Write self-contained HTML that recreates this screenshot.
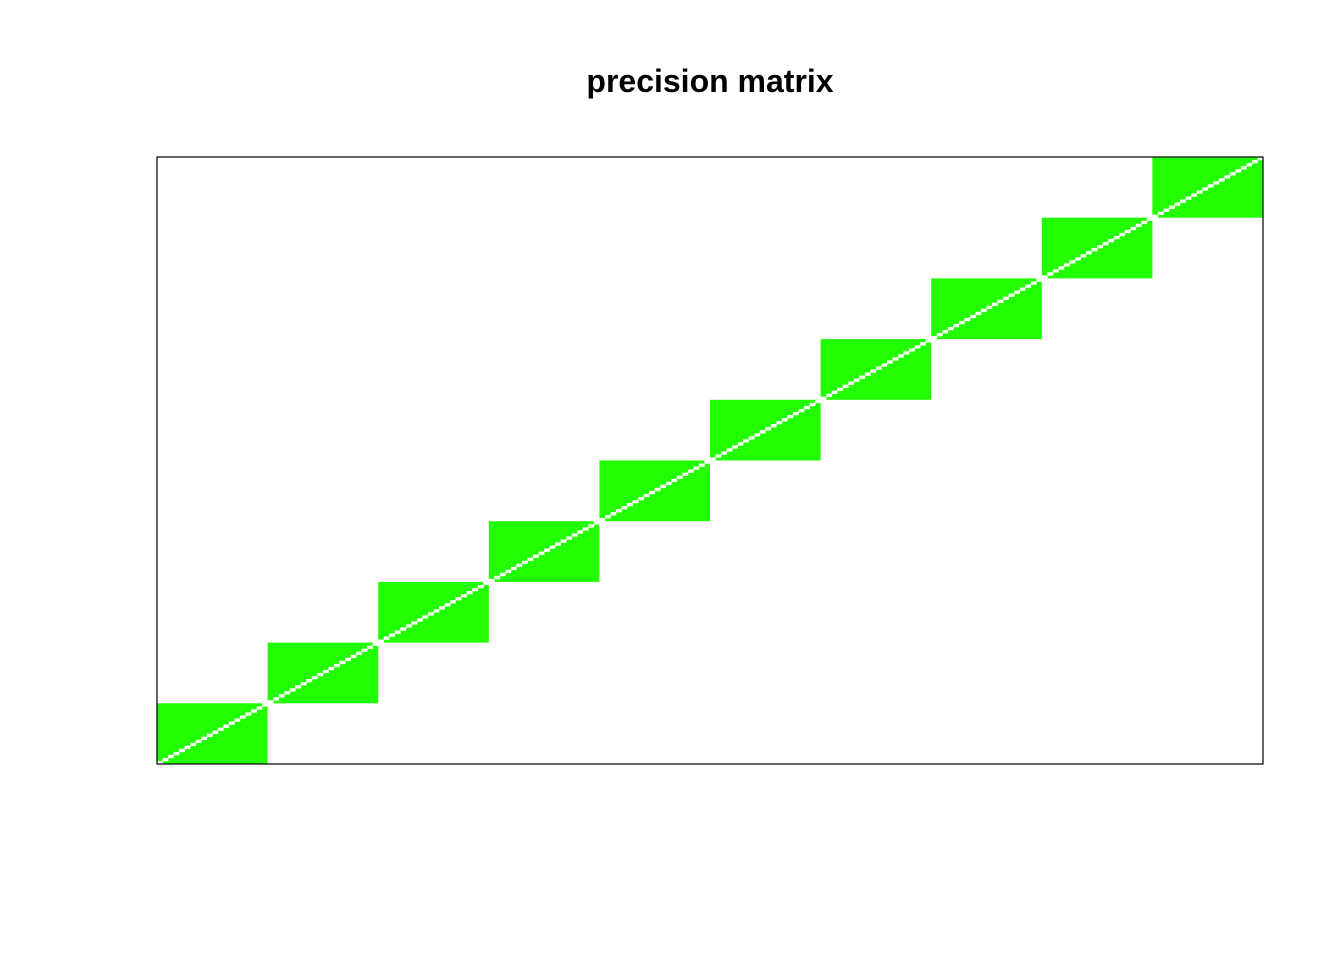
<!DOCTYPE html>
<html><head><meta charset="utf-8"><style>
body{margin:0;background:#fff;width:1344px;height:960px;overflow:hidden}
svg{display:block}
</style></head><body>
<svg id="chart" width="1344" height="960">
<text x="710" y="92" text-anchor="middle" font-family="Liberation Sans, sans-serif" font-weight="bold" font-size="32">precision matrix</text>
<g id="cells"></g>
<rect x="157" y="157" width="1106" height="607" fill="none" stroke="#000" stroke-width="1.2"/>
</svg>
<script>
// block sizes of the block-diagonal precision matrix
const blockSizes = [20,20,20,20,20,20,20,20,20,20];
const offDiagValue = [1,1,1,1,1,1,1,1,1,1];
const diagValue = 2;
const N = blockSizes.reduce((a,b)=>a+b,0);
const X0=157, X1=1263, Y0=157, Y1=764;
const xs = i => X0 + (X1-X0)*i/N;
const ys = j => Y1 - (Y1-Y0)*j/N;
const color = v => v===0 ? '#ffffff' : (v>=diagValue ? '#ffffff' : '#22ff00');
const g = document.getElementById('cells');
const NS='http://www.w3.org/2000/svg';
let start=0;
blockSizes.forEach((s,b)=>{
  const r=document.createElementNS(NS,'rect');
  r.setAttribute('x',xs(start)); r.setAttribute('y',ys(start+s));
  r.setAttribute('width',xs(start+s)-xs(start)); r.setAttribute('height',ys(start)-ys(start+s));
  r.setAttribute('fill',color(offDiagValue[b]));
  
  
  g.appendChild(r);
  start+=s;
});
for(let i=0;i<N;i++){
  const c=document.createElementNS(NS,'rect');
  c.setAttribute('x',xs(i)); c.setAttribute('y',ys(i+1));
  c.setAttribute('width',xs(i+1)-xs(i)+0.3); c.setAttribute('height',ys(i)-ys(i+1)+0.3);
  c.setAttribute('fill',color(diagValue));
  
  
  g.appendChild(c);
}
</script>
</body></html>
